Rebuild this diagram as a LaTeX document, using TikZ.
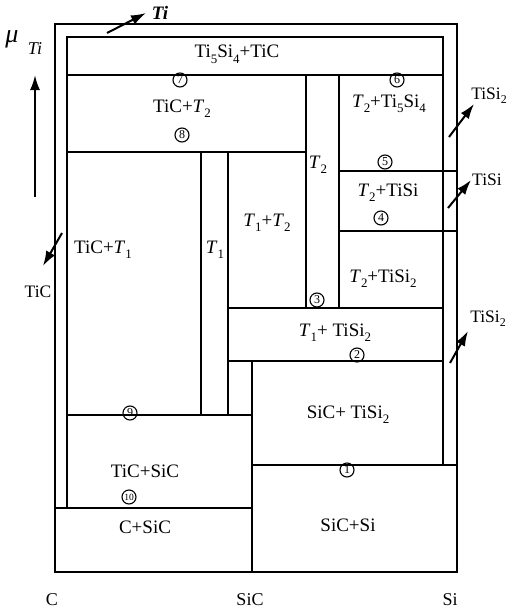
\documentclass[tikz,border=0pt]{standalone}
\usepackage{fontspec}
\setmainfont{Liberation Serif}
\usetikzlibrary{arrows.meta}
\newcommand{\sbs}[1]{\raisebox{-0.28em}{\scalebox{0.68}{#1}}}
\newcommand{\tT}[1]{\textit{T}\sbs{#1}}
\begin{document}
\begin{tikzpicture}[x=1pt,y=-1pt,
  wall/.style={line width=1.8pt, line cap=rect},
  lab/.style={font=\fontsize{19}{19}\selectfont, inner sep=0pt, anchor=base},
  side/.style={font=\fontsize{17.5}{17.5}\selectfont, inner sep=0pt, anchor=base},
  axl/.style={font=\fontsize{18}{18}\selectfont, inner sep=0pt, anchor=base},
  cnum/.style={circle, draw, line width=1.1pt, inner sep=0pt, minimum size=14pt, font=\fontsize{12}{12}\selectfont},
  arr/.style={line width=2pt, -{Latex[length=15pt,width=10pt]}}]
\useasboundingbox (0,0) rectangle (508,610);
% frames
\draw[wall] (55,24) rectangle (457,572);
\draw[wall] (67,508) -- (67,37) -- (443,37) -- (443,465);
% horizontal and vertical boundaries
\draw[wall] (67,75) -- (443,75);
\draw[wall] (67,152) -- (306,152);
\draw[wall] (306,75) -- (306,308);
\draw[wall] (339,75) -- (339,308);
\draw[wall] (339,171) -- (457,171);
\draw[wall] (339,231) -- (457,231);
\draw[wall] (228,308) -- (443,308);
\draw[wall] (201,152) -- (201,415);
\draw[wall] (228,152) -- (228,415);
\draw[wall] (228,361) -- (443,361);
\draw[wall] (252,361) -- (252,572);
\draw[wall] (67,415) -- (252,415);
\draw[wall] (55,508) -- (252,508);
\draw[wall] (252,465) -- (457,465);
% region labels
\node[lab] (r1) at (237,58) {Ti\sbs{5}Si\sbs{4}+TiC};
\node[lab] (r2) at (182,112) {TiC+\tT{2}};
\node[lab] (r3) at (389,107) {\tT{2}+Ti\sbs{5}Si\sbs{4}};
\node[lab] (r4) at (318,168) {\tT{2}};
\node[lab] (r5) at (388,196) {\tT{2}+TiSi};
\node[lab] (r6) at (383,282) {\tT{2}+TiSi\sbs{2}};
\node[lab] (r7) at (267,226) {\tT{1}+\tT{2}};
\node[lab] (r8) at (335,336) {\tT{1}+ TiSi\sbs{2}};
\node[lab] (r9) at (348,418) {SiC+ TiSi\sbs{2}};
\node[lab] (r10) at (348,531) {SiC+Si};
\node[lab] (r11) at (103,253) {TiC+\tT{1}};
\node[lab] (r12) at (215,253) {\tT{1}};
\node[lab] (r13) at (145,477) {TiC+SiC};
\node[lab] (r14) at (145,533) {C+SiC};
% circled numbers
\node[cnum] (c1) at (347,470) {1};
\node[cnum] (c2) at (357,355) {2};
\node[cnum] (c3) at (317,300) {3};
\node[cnum] (c4) at (381,218) {4};
\node[cnum] (c5) at (385,162) {5};
\node[cnum] (c6) at (397,80) {6};
\node[cnum] (c7) at (180,80) {7};
\node[cnum] (c8) at (182,135) {8};
\node[cnum] (c9) at (130,413) {9};
\node[cnum, font=\fontsize{9.5}{9.5}\selectfont] (c10) at (129,497) {10};
% axis labels
\node[axl] (xC) at (52,605) {C};
\node[axl] (xSiC) at (250,605) {SiC};
\node[axl] (xSi) at (450,605) {Si};
\node[font=\fontsize{26}{26}\selectfont, inner sep=0pt, anchor=base] (mu) at (12,43) {\textit{μ}};
\node[font=\fontsize{18}{18}\selectfont, inner sep=0pt, anchor=base] (muTi) at (35,55) {\textit{Ti}};
\node[font=\fontsize{19}{19}\selectfont\bfseries, inner sep=0pt, anchor=base] (tTi) at (160,20) {\textit{Ti}};
\node[side] (sTiC) at (38,297) {TiC};
\node[side] (sTiSi2a) at (489,99) {TiSi\sbs{2}};
\node[side] (sTiSi) at (487,185) {TiSi};
\node[side] (sTiSi2b) at (488,322) {TiSi\sbs{2}};
% arrows
\coordinate (muS) at (35,197); \coordinate (muE) at (35,75);
\coordinate (tiS) at (107,33); \coordinate (tiE) at (146,13);
\coordinate (ticS) at (62,233); \coordinate (ticE) at (43,266);
\coordinate (s2aS) at (449,137); \coordinate (s2aE) at (474,104);
\coordinate (s1S) at (448,208); \coordinate (s1E) at (471,180);
\coordinate (s2bS) at (450,363); \coordinate (s2bE) at (468,331);
\draw[arr] (muS) -- (muE);
\draw[arr] (tiS) -- (tiE);
\draw[arr] (ticS) -- (ticE);
\draw[arr] (s2aS) -- (s2aE);
\draw[arr] (s1S) -- (s1E);
\draw[arr] (s2bS) -- (s2bE);
\end{tikzpicture}
\end{document}
